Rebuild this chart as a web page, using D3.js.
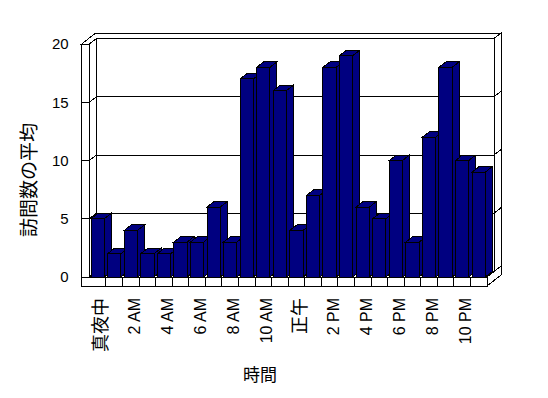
<!DOCTYPE html>
<html>
<head>
<meta charset="utf-8">
<script src="https://cdn.jsdelivr.net/npm/d3@7"></script>
<style>
    body { margin: 0; background: #fff; }
    text { font-family: "Liberation Sans", "Noto Sans CJK JP", sans-serif; fill: #000; }
</style>
</head>
<body>
<div id="chart"></div>
<script>
// data
const hours = ["真夜中", "1 AM", "2 AM", "3 AM", "4 AM", "5 AM", "6 AM", "7 AM", "8 AM", "9 AM", "10 AM", "11 AM",
    "正午", "1 PM", "2 PM", "3 PM", "4 PM", "5 PM", "6 PM", "7 PM", "8 PM", "9 PM", "10 PM", "11 PM"]
const visits = [5, 2, 4, 2, 2, 3, 3, 6, 3, 17, 18, 16, 4, 7, 18, 19, 6, 5, 10, 3, 12, 18, 10, 9]
const yTicks = [0, 5, 10, 15, 20]
const yTitle = "訪問数の平均"
const xTitle = "時間"

const SVGWIDTH = 548, SVGHEIGHT = 398
const barColor = "#000080"

// front plane of the 3d box
const wallLeft = 81.7, plotLeft = 89.4, plotRight = 487
const floorBottom = 286
const depth = [7, -5.5]

let svg = d3.select("#chart").append("svg")
    .attr("width", SVGWIDTH)
    .attr("height", SVGHEIGHT)
    .style("display", "block")
    .attr("shape-rendering", "crispEdges")

let x = d3.scaleBand().domain(d3.range(hours.length)).range([plotLeft, plotRight])
    .paddingInner(0.2).paddingOuter(0.1)
let xCat = d3.scaleBand().domain(d3.range(hours.length)).range([plotLeft, plotRight])
let y = d3.scaleLinear().domain([0, 20]).range([277, 44])
const y0 = y(0), yTop = y(20)

function proj(px, py, z) {
    return [px + z * depth[0], py + z * depth[1]]
}

function face(g, pts, fill) {
    g.append("polygon")
        .attr("points", pts.map(p => p.join(",")).join(" "))
        .attr("fill", fill)
        .attr("stroke", "#000")
        .attr("stroke-width", 1)
}

let box = svg.append("g")

// back wall inner face
face(box, [proj(plotLeft, yTop, 1), proj(plotRight, yTop, 1), proj(plotRight, y0, 1), proj(plotLeft, y0, 1)], "#fff")
// top edge of the walls
face(box, [proj(wallLeft, yTop, 0), proj(plotLeft, yTop, 0), proj(plotLeft, yTop, 1), proj(plotRight, yTop, 1),
    proj(plotRight, yTop, 2), proj(wallLeft, yTop, 2)], "#fff")
// right side of back wall
face(box, [proj(plotRight, yTop, 1), proj(plotRight, yTop, 2), proj(plotRight, y0, 2), proj(plotRight, y0, 1)], "#fff")
// left wall: inner side and front strip
face(box, [proj(plotLeft, yTop, 0), proj(plotLeft, yTop, 1), proj(plotLeft, y0, 1), proj(plotLeft, y0, 0)], "#fff")
face(box, [[wallLeft, yTop], [plotLeft, yTop], [plotLeft, floorBottom], [wallLeft, floorBottom]], "#fff")
// floor: top, right side, front strip
face(box, [proj(plotLeft, y0, 0), proj(plotRight, y0, 0), proj(plotRight, y0, 1), proj(plotLeft, y0, 1)], "#fff")
face(box, [proj(plotRight, y0, 0), proj(plotRight, y0, 2), proj(plotRight, floorBottom, 2), proj(plotRight, floorBottom, 0)], "#fff")
face(box, [[wallLeft, y0], [plotRight, y0], [plotRight, floorBottom], [wallLeft, floorBottom]], "#fff")

// category ticks on the floor front
for (let i = 1; i < hours.length; i++) {
    box.append("line")
        .attr("x1", xCat(i)).attr("x2", xCat(i))
        .attr("y1", y0).attr("y2", floorBottom)
        .attr("stroke", "#000")
}

// gridlines around the walls
const line = d3.line()
for (let v of yTicks.slice(1, -1)) {
    let yy = y(v)
    box.append("path")
        .attr("d", line([[wallLeft, yy], [plotLeft, yy], proj(plotLeft, yy, 1), proj(plotRight, yy, 1), proj(plotRight, yy, 2)]))
        .attr("fill", "none")
        .attr("stroke", "#000")
}

// bars, left to right so each front hides the previous side
let bars = svg.append("g")
for (let i = 0; i < visits.length; i++) {
    let bx = x(i), bw = x.bandwidth(), top = y(visits[i])
    let g = bars.append("g")
    face(g, [proj(bx + bw, top, 0), proj(bx + bw, top, 1), proj(bx + bw, y0, 1), proj(bx + bw, y0, 0)], barColor)
    face(g, [proj(bx, top, 0), proj(bx + bw, top, 0), proj(bx + bw, top, 1), proj(bx, top, 1)], barColor)
    face(g, [[bx, top], [bx + bw, top], [bx + bw, y0], [bx, y0]], barColor)
}

// y axis labels
let yAxis = svg.append("g")
    .attr("transform", "translate(" + wallLeft + ",0)")
    .call(d3.axisLeft(y).tickValues(yTicks).tickSize(0).tickPadding(13))
yAxis.select(".domain").remove()
yAxis.selectAll("text")
    .style("font-family", "'Liberation Sans', sans-serif")
    .style("font-size", "15px")

// x axis labels, every other hour, rotated
let xAxis = svg.append("g")
    .attr("transform", "translate(3.5," + floorBottom + ")")
    .call(d3.axisBottom(xCat).tickSize(0).tickFormat((d, i) => i % 2 ? "" : hours[i]))
xAxis.select(".domain").remove()
xAxis.selectAll("text")
    .attr("transform", "rotate(-90)")
    .attr("text-anchor", "end")
    .attr("x", -12)
    .attr("y", 0)
    .attr("dy", "0.35em")
    .style("font-family", "'Liberation Sans', 'Noto Sans CJK JP', sans-serif")
    .style("font-size", d => /[^\x00-\x7f]/.test(hours[d]) ? "18px" : "16px")

// titles
svg.append("text")
    .attr("transform", "translate(29,180) rotate(-90)")
    .attr("text-anchor", "middle")
    .attr("dy", "0.35em")
    .style("font-size", "19px")
    .text(yTitle)

svg.append("text")
    .attr("x", 260)
    .attr("y", 375)
    .attr("text-anchor", "middle")
    .attr("dy", "0.35em")
    .style("font-size", "17px")
    .text(xTitle)
</script>
</body>
</html>
